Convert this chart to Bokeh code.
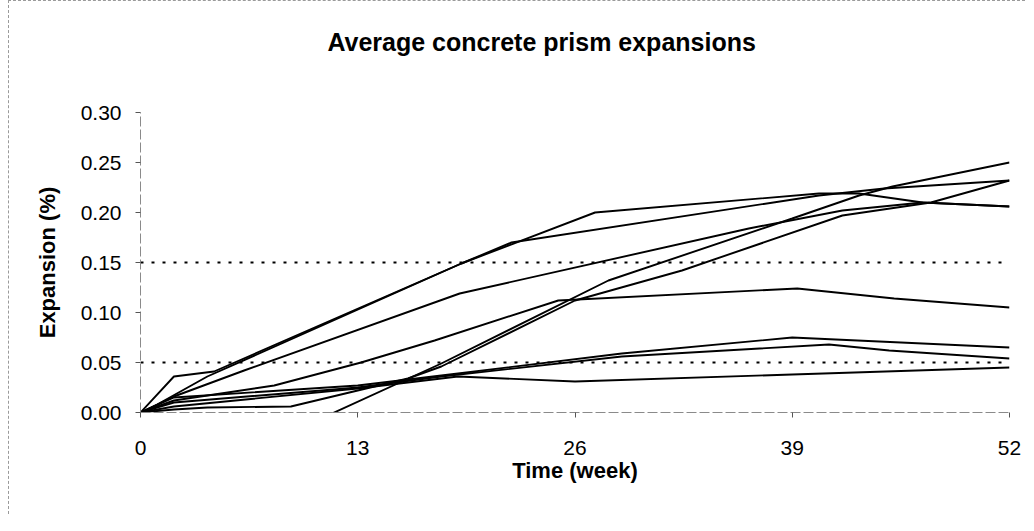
from bokeh.plotting import figure
from bokeh.layouts import column
from bokeh.models import Range1d, FixedTicker, NumeralTickFormatter
from bokeh.core.properties import value
from bokeh.embed import file_html
from bokeh.resources import INLINE

# ---- data ----
chart_title = "Average concrete prism expansions"
x_ticks = [0, 13, 26, 39, 52]
y_ticks = [0.00, 0.05, 0.10, 0.15, 0.20, 0.25, 0.30]
limit_levels = [0.05, 0.15]
limit_weeks = [0, 52]

weeks_1 = [0, 2, 4.4, 19.2, 22.2, 40.6, 44.5, 52]
exp_1 = [0, 0.036, 0.041, 0.149, 0.170, 0.217, 0.224, 0.232]

weeks_2 = [0, 1, 4, 19.2, 27.2, 40.6, 43, 46.8, 52]
exp_2 = [0, 0.008, 0.036, 0.149, 0.200, 0.219, 0.219, 0.210, 0.206]

weeks_3 = [0, 2, 6.2, 19.1, 36.4, 42, 46.8, 52]
exp_3 = [0, 0.016, 0.042, 0.119, 0.184, 0.202, 0.210, 0.206]

weeks_4 = [0, 1.5, 11.2, 18, 28, 39, 43, 45, 52]
exp_4 = [0, -0.004, -0.003, 0.049, 0.132, 0.194, 0.217, 0.226, 0.250]

weeks_5 = [0, 2, 4, 9, 16, 18, 26, 32.4, 42, 47.3, 52]
exp_5 = [0, 0.003, 0.005, 0.006, 0.034, 0.046, 0.112, 0.142, 0.197, 0.210, 0.232]

weeks_6 = [0, 2, 8, 13.2, 17.6, 25, 39.3, 45.1, 52]
exp_6 = [0, 0.012, 0.027, 0.050, 0.072, 0.112, 0.124, 0.114, 0.105]

weeks_7 = [0, 2, 13, 18, 28.8, 39, 52]
exp_7 = [0, 0.015, 0.027, 0.037, 0.059, 0.075, 0.065]

weeks_8 = [0, 2, 13, 18, 28.8, 41.2, 44.8, 52]
exp_8 = [0, 0.010, 0.025, 0.036, 0.056, 0.068, 0.062, 0.054]

weeks_9 = [0, 2, 13, 19, 26, 39, 52]
exp_9 = [0, 0.006, 0.024, 0.036, 0.031, 0.038, 0.045]

series = [
    (weeks_1, exp_1), (weeks_2, exp_2), (weeks_3, exp_3),
    (weeks_4, exp_4), (weeks_5, exp_5), (weeks_6, exp_6),
    (weeks_7, exp_7), (weeks_8, exp_8), (weeks_9, exp_9),
]

FONT = "Liberation Sans"
W = 1016
TITLE_H = 80

# ---- title strip (a figure of its own, pixel coordinates) ----
t = figure(
    width=W, height=TITLE_H, x_range=Range1d(0, W), y_range=Range1d(0, TITLE_H),
    x_axis_type=None, y_axis_type=None,
    output_backend="svg", toolbar_location=None,
    min_border=0,
)
t.outline_line_color = None
t.background_fill_color = "white"
t.border_fill_color = "white"
t.text(x=[W / 2 - 39], y=[TITLE_H - 40], text=[chart_title],
       text_font=value(FONT), text_font_size="25px", text_font_style="bold",
       text_align="center", text_baseline="middle", text_color="black")

# ---- main chart ----
p = figure(
    width=W, height=513 - TITLE_H,
    x_range=Range1d(0, 52), y_range=Range1d(0, 0.30),
    output_backend="svg", toolbar_location=None,
    min_border_left=131, min_border_right=16,
    min_border_top=31, min_border_bottom=102,
)
p.outline_line_color = None
p.xgrid.visible = False
p.ygrid.visible = False
p.background_fill_color = "white"
p.border_fill_color = "white"

# reference limit lines
for lvl in limit_levels:
    p.line(limit_weeks, [lvl, lvl], line_color="black", line_width=2.2, line_dash="3 8")

for wk, ex in series:
    p.line(wk, ex, line_color="black", line_width=1.9)

# axes
p.xaxis.ticker = FixedTicker(ticks=x_ticks)
p.yaxis.ticker = FixedTicker(ticks=y_ticks)
p.yaxis.formatter = NumeralTickFormatter(format="0.00")
for ax in (p.xaxis[0], p.yaxis[0]):
    ax.axis_line_color = "#8a8a8a"
    ax.axis_line_dash = "10 3"
    ax.major_tick_line_color = "#555555"
    ax.major_tick_out = 5
    ax.major_tick_in = 0
    ax.minor_tick_line_color = None
    ax.major_label_text_font = FONT
    ax.major_label_text_font_size = "21px"
    ax.major_label_text_color = "black"
    ax.axis_label_text_font = FONT
    ax.axis_label_text_font_size = "22px"
    ax.axis_label_text_font_style = "bold"
    ax.axis_label_text_color = "black"

p.xaxis.axis_label = "Time (week)"
p.yaxis.axis_label = "Expansion (%)"
p.xaxis.major_label_standoff = 23
p.yaxis.major_label_standoff = 14
p.xaxis.axis_label_standoff = 0
p.yaxis.axis_label_standoff = 18

layout = column(t, p, spacing=0)
layout.styles = {"margin-left": "8px",
                 "border-top": "1px dashed #9a9a9a",
                 "border-left": "1px dashed #9a9a9a"}

open("out.html", "w").write(file_html(layout, INLINE))
